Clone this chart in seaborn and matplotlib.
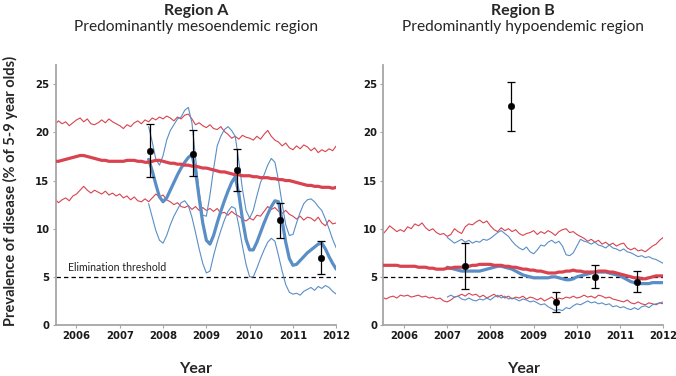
import numpy as np
import matplotlib
matplotlib.use('Agg')
import matplotlib.pyplot as plt
import seaborn as sns

# monthly model output, mid-2005 to 2012
months = 2005.5 + np.arange(79) / 12

# ---- Region A (mesoendemic) ----
a_red_mid = [17.0, 17.0, 17.1, 17.2, 17.3, 17.4, 17.5,
             17.6, 17.6, 17.5, 17.4, 17.3, 17.2,
             17.1, 17.1, 17.0, 17.0, 17.0, 17.0,
             17.0, 17.1, 17.1, 17.1, 17.0, 17.0,
             16.9, 16.9, 17.0, 17.1, 17.1, 17.0,
             16.9, 16.8, 16.8, 16.7, 16.7, 16.6,
             16.6, 16.5, 16.5, 16.4, 16.3, 16.3,
             16.2, 16.1, 16.0, 15.9, 15.9, 15.8,
             15.7, 15.6, 15.6, 15.5, 15.5, 15.5,
             15.4, 15.4, 15.3, 15.3, 15.3, 15.2,
             15.2, 15.1, 15.1, 15.0, 15.0, 14.9,
             14.8, 14.7, 14.6, 14.5, 14.5, 14.4,
             14.4, 14.3, 14.3, 14.3, 14.2, 14.3]
a_red_hi = [20.8, 21.2, 20.9, 21.1, 20.7, 21.0, 21.3,
            21.5, 21.1, 21.4, 20.9, 20.8, 21.0,
            21.3, 21.0, 21.4, 21.1, 20.9, 20.7,
            20.4, 20.8, 20.6, 21.0, 21.2, 20.9,
            21.3, 21.1, 21.5, 21.3, 21.6, 21.4,
            21.7, 21.5, 21.2, 21.6, 21.4, 21.8,
            21.9, 21.4, 20.8, 21.0, 20.7, 20.5,
            20.8, 20.4, 20.3, 20.6, 20.1, 19.8,
            19.4, 19.6, 19.3, 19.7, 19.5, 19.4,
            19.2, 19.6, 19.3, 19.8, 20.2, 19.6,
            19.2, 19.0, 18.6, 18.9, 18.4, 18.2,
            18.6, 18.3, 18.7, 18.5, 18.1, 18.4,
            17.9, 18.2, 18.0, 18.3, 18.1, 18.6]
a_red_lo = [13.1, 12.7, 13.0, 13.2, 12.9, 13.4, 13.6,
            14.0, 14.4, 14.0, 13.7, 14.0, 13.8,
            13.6, 13.9, 13.5, 13.7, 13.4, 13.6,
            13.2, 13.4, 13.0, 13.3, 12.9, 12.8,
            13.1, 12.8, 13.2, 13.6, 13.3, 13.5,
            13.0, 12.8, 12.5, 12.7, 12.3, 12.2,
            12.4, 12.0, 12.3, 11.9, 12.2, 11.9,
            12.1, 11.8, 12.1, 11.6, 11.7, 11.4,
            11.8, 11.5, 11.3, 11.0, 10.8, 11.1,
            10.9, 11.4, 11.3, 11.8, 12.3, 12.0,
            12.2, 11.8, 11.6, 11.9, 11.5, 11.3,
            11.0, 11.3, 10.9, 11.2, 11.1, 10.8,
            11.2, 10.6, 10.3, 10.9, 10.5, 10.6]
# blue series start late 2007
a_blue_mid = [17.2, 16.0, 14.6, 13.3,
              12.8, 13.2, 14.0, 14.8, 15.6, 16.3, 16.9, 17.4, 17.7, 16.0, 13.2, 10.6,
              8.8, 8.4, 9.3, 10.6, 11.8, 12.9, 13.9, 14.8, 15.4, 13.6, 11.0, 8.9,
              7.8, 7.8, 8.6, 9.6, 10.6, 11.5, 12.3, 12.9, 12.8, 10.8, 8.6, 6.9,
              6.2, 6.3, 6.7, 7.1, 7.5, 7.8, 8.1, 8.4, 8.5, 7.9, 7.1, 6.4, 5.8]
a_blue_hi = [20.6, 19.0, 17.2, 16.6,
             17.6, 19.2, 20.2, 20.8, 21.4, 21.6, 22.3, 22.6, 21.0, 17.4, 13.8, 11.4,
             11.3, 13.5, 16.2, 18.6, 19.6, 20.3, 20.6, 20.2, 19.6, 17.0, 14.1, 11.9,
             11.1, 11.9, 13.4, 14.8, 15.6, 16.6, 17.3, 16.9, 15.0, 12.6, 10.4, 9.3,
             9.4, 10.6, 11.7, 12.6, 13.0, 13.1, 12.8, 12.3, 11.9, 11.0, 10.0, 8.9, 8.0]
a_blue_lo = [12.6, 11.2, 9.8, 8.8,
             8.5, 9.3, 10.4, 11.3, 12.0, 12.7, 12.9, 12.4, 11.2, 9.6, 7.9, 6.4,
             5.4, 5.6, 7.2, 8.6, 9.8, 10.9, 11.8, 12.3, 12.1, 10.3, 8.2, 6.3,
             5.0, 5.0, 5.9, 6.9, 7.8, 8.6, 9.0, 8.7, 7.2, 5.6, 4.2, 3.4,
             3.2, 3.3, 3.1, 3.5, 3.7, 3.9, 3.6, 4.0, 3.8, 4.1, 3.9, 3.5, 3.2]
a_obs_year = [2007.7, 2008.7, 2009.7, 2010.7, 2011.65]
a_obs_val = [18.1, 17.8, 16.1, 10.9, 7.0]
a_obs_lo = [15.4, 15.5, 13.9, 9.0, 5.3]
a_obs_hi = [20.9, 20.2, 18.3, 12.7, 8.7]

# ---- Region B (hypoendemic) ----
b_red_mid = [6.2, 6.2, 6.2, 6.2, 6.2, 6.1, 6.1,
             6.1, 6.1, 6.1, 6.0, 6.0, 6.0,
             5.9, 5.9, 5.8, 5.8, 5.8, 5.9,
             5.9, 6.0, 6.0, 6.0, 6.1, 6.1,
             6.2, 6.2, 6.3, 6.3, 6.3, 6.3,
             6.2, 6.2, 6.2, 6.1, 6.1, 6.0,
             6.0, 5.9, 5.8, 5.8, 5.7, 5.7,
             5.6, 5.6, 5.5, 5.4, 5.4, 5.4,
             5.5, 5.5, 5.6, 5.6, 5.7, 5.6,
             5.6, 5.5, 5.5, 5.5, 5.5, 5.6,
             5.6, 5.6, 5.5, 5.5, 5.4, 5.3,
             5.2, 5.1, 5.0, 4.9, 4.9, 4.8,
             4.8, 4.9, 5.0, 5.1, 5.1, 5.1]
b_red_hi = [9.4, 9.8, 10.3, 10.0, 9.7, 9.9, 9.7,
            10.2, 10.0, 10.5, 10.3, 10.6, 10.1,
            9.8, 10.0, 9.6, 9.4, 9.5, 9.2,
            9.4, 10.0, 9.7, 9.5, 10.2, 10.5,
            10.4, 10.7, 10.9, 10.6, 10.8, 10.3,
            9.9, 9.7, 10.1, 9.8, 10.0, 9.7,
            9.9, 9.5, 9.3, 9.5, 9.6, 9.8,
            9.4, 9.7, 9.5, 9.8, 9.6, 9.3,
            9.7, 9.9, 10.0, 9.6, 9.7, 9.4,
            9.2, 9.0, 8.7, 8.9, 8.6, 8.8,
            8.4, 8.6, 8.3, 8.5, 8.2, 8.4,
            8.5, 8.0, 7.8, 8.0, 7.7, 7.8,
            7.6, 7.9, 8.2, 8.4, 8.8, 9.1]
b_red_lo = [2.9, 2.7, 2.9, 3.0, 2.8, 3.1, 3.0,
            3.1, 2.9, 3.0, 3.1, 2.9, 3.0,
            2.8, 2.9, 2.7, 2.8, 2.5, 2.4,
            2.6, 2.9, 3.0, 3.2, 3.0, 3.3,
            3.1, 3.2, 2.9, 3.1, 2.8, 3.0,
            3.2, 2.9, 3.1, 2.8, 3.0, 2.7,
            2.9, 2.8, 3.0, 2.7, 2.9, 2.8,
            2.6, 2.8, 2.5, 2.7, 2.9, 2.6,
            2.8, 2.7, 2.9, 2.8, 3.0, 2.8,
            2.9, 3.1, 2.9, 3.0, 2.8, 3.1,
            3.0, 2.8, 2.9, 2.7, 2.6, 2.5,
            2.4, 2.6, 2.3, 2.2, 2.4, 2.2,
            2.1, 2.3, 2.2, 2.1, 2.3, 2.2]
# blue series start 2007
b_blue_mid = [6.0,
              5.9, 5.8, 5.7, 5.6, 5.6, 5.6,
              5.6, 5.6, 5.6, 5.7, 5.8, 5.9,
              6.0, 6.1, 6.1, 6.0, 5.9, 5.8,
              5.6, 5.4, 5.2, 5.1, 5.0, 4.9,
              4.9, 4.9, 4.9, 4.9, 5.0, 5.0,
              4.9, 4.8, 4.7, 4.7, 4.8, 5.0,
              5.1, 5.2, 5.3, 5.4, 5.5, 5.5,
              5.5, 5.5, 5.4, 5.3, 5.2, 5.1,
              4.9, 4.7, 4.5, 4.4, 4.3, 4.3,
              4.3, 4.3, 4.4, 4.4, 4.4, 4.4]
b_blue_hi = [9.1,
             8.8, 8.5, 8.7, 8.9, 8.6, 8.8,
             8.5, 8.7, 8.6, 8.9, 8.8, 9.0,
             9.3, 9.6, 9.8, 9.5, 9.2, 8.7,
             8.3, 8.0, 7.8, 8.1, 7.6, 7.4,
             7.8, 8.3, 8.2, 8.6, 8.8, 8.5,
             8.7, 8.2, 7.3, 7.2, 7.5, 8.2,
             8.9, 8.7, 8.6, 8.4, 8.6, 8.3,
             8.2, 8.0, 8.3, 8.0, 7.9, 7.7,
             7.9, 7.6, 7.5, 7.3, 7.1, 7.2,
             7.0, 7.1, 6.9, 6.8, 6.6, 6.4]
b_blue_lo = [2.9,
             3.1, 2.9, 3.0, 2.7, 2.6, 2.8,
             2.6, 2.5, 2.7, 2.6, 2.8, 2.6,
             2.9, 3.1, 2.8, 3.0, 2.7, 2.8,
             2.7, 2.5, 2.7, 2.6, 2.4, 2.5,
             2.3, 2.1, 2.2, 1.9, 1.7, 1.5,
             1.6, 1.5, 1.8, 1.7, 2.0, 2.2,
             2.1, 2.3, 2.5, 2.3, 2.4, 2.2,
             2.3, 2.1, 2.2, 1.9, 2.0, 1.8,
             1.9, 1.7, 1.6, 1.8, 1.6, 1.9,
             2.0, 1.8, 2.1, 2.2, 2.3, 2.4]
b_obs_year = [2007.42, 2008.48, 2009.52, 2010.41, 2011.39]
b_obs_val = [6.1, 22.7, 2.4, 5.0, 4.5]
b_obs_lo = [3.7, 20.1, 1.4, 3.8, 3.4]
b_obs_hi = [8.5, 25.2, 3.4, 6.2, 5.6]

years = [2006, 2007, 2008, 2009, 2010, 2011, 2012]
RED = '#d8434f'
BLUE = '#5a8ec6'

sns.set_style('ticks')
plt.rcParams['font.family'] = ['DejaVu Sans']

fig = plt.figure(figsize=(6.76, 3.76), dpi=100)
ax_a = fig.add_axes([0.0824, 0.1356, 0.4150, 0.6915])
ax_b = fig.add_axes([0.5670, 0.1356, 0.4142, 0.6915])


def draw_panel(ax, red, blue, blue_start, obs):
    red_mid, red_hi, red_lo = red
    blue_mid, blue_hi, blue_lo = blue
    t_blue = months[blue_start:]
    ax.axhline(5, color='black', lw=0.9, ls=(0, (3.5, 2.5)), zorder=1)
    for s in (red_hi, red_lo):
        sns.lineplot(x=months, y=s, ax=ax, color=RED, lw=0.8, zorder=2)
    for s in (blue_hi, blue_lo):
        sns.lineplot(x=t_blue, y=s, ax=ax, color=BLUE, lw=0.8, zorder=2)
    sns.lineplot(x=t_blue, y=blue_mid, ax=ax, color=BLUE, lw=2.3, zorder=3)
    sns.lineplot(x=months, y=red_mid, ax=ax, color=RED, lw=2.3, zorder=3)
    yr, val, lo, hi = (np.array(v) for v in obs)
    ax.errorbar(yr, val, yerr=[val - lo, hi - val], fmt='none', ecolor='black',
                elinewidth=0.9, capsize=3, capthick=0.9, zorder=4)
    sns.scatterplot(x=yr, y=val, ax=ax, color='black', s=22, edgecolor='black',
                    zorder=5)
    ax.set_xlim(2005.52, 2012)
    ax.set_ylim(0, 27)
    ax.set_xticks(years)
    ax.set_yticks([0, 5, 10, 15, 20, 25])
    ax.set_xlabel('')
    ax.set_ylabel('')
    sns.despine(ax=ax)
    for sp in ('left', 'bottom'):
        ax.spines[sp].set_color('#a6a6a6')
        ax.spines[sp].set_linewidth(1.3)
    ax.tick_params(length=2.5, width=0.8, color='#a6a6a6', pad=2)
    for lab in ax.get_xticklabels() + ax.get_yticklabels():
        lab.set_fontweight('bold')
        lab.set_fontsize(7.3)
        lab.set_color('#1a1a1a')


draw_panel(ax_a, (a_red_mid, a_red_hi, a_red_lo),
           (a_blue_mid, a_blue_hi, a_blue_lo), 26,
           (a_obs_year, a_obs_val, a_obs_lo, a_obs_hi))
draw_panel(ax_b, (b_red_mid, b_red_hi, b_red_lo),
           (b_blue_mid, b_blue_hi, b_blue_lo), 18,
           (b_obs_year, b_obs_val, b_obs_lo, b_obs_hi))

ax_a.text(2005.8, 5.45, 'Elimination threshold', fontsize=7.6, family='Lato',
          color='#222222', va='bottom')

# titles and axis labels
for ax, name, sub in ((ax_a, 'Region A', 'Predominantly mesoendemic region'),
                      (ax_b, 'Region B', 'Predominantly hypoendemic region')):
    pos = ax.get_position()
    cx = (pos.x0 + pos.x1) / 2
    fig.text(cx, 0.972, name, ha='center', va='center', fontsize=11.5,
             fontweight='bold', family='Lato')
    fig.text(cx, 0.927, sub, ha='center', va='center', fontsize=11.2,
             family='Lato')
    fig.text(cx, 0.018, 'Year', ha='center', va='center', fontsize=11.5,
             fontweight='bold', family='Lato')

fig.text(0.016, 0.492, 'Prevalence of disease (% of 5-9 year olds)',
         rotation=90, ha='center', va='center', fontsize=10.5,
         fontweight='bold', family='Lato')

fig.savefig('out.png', dpi=100)
